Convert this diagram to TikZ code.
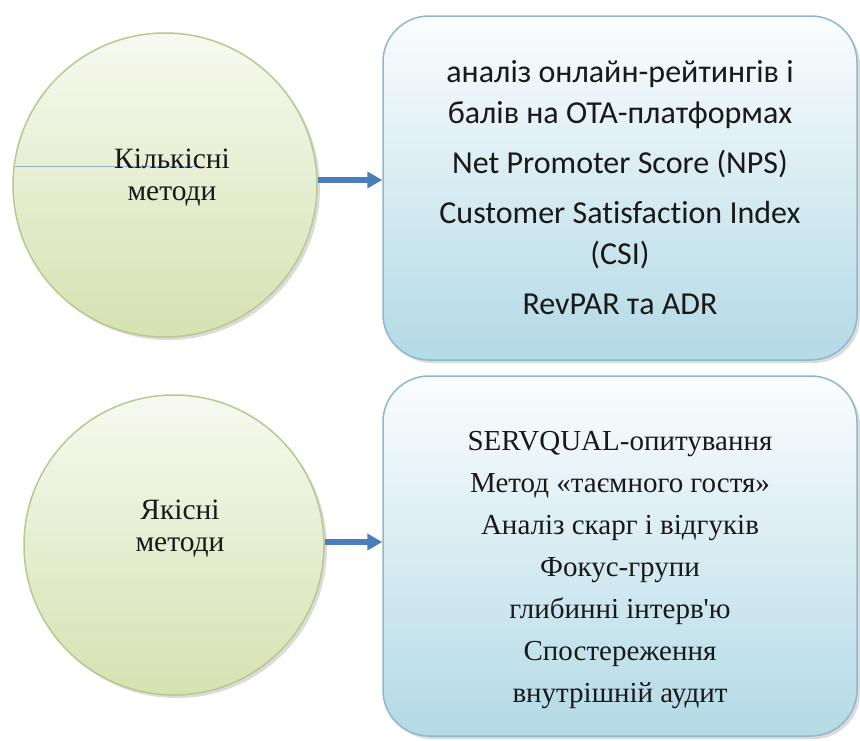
\documentclass[tikz,border=0pt]{standalone}
\usepackage{fontspec}
\setmainfont[Ligatures=TeXOff]{Liberation Serif}
\newfontfamily\carl[Ligatures=CommonOff]{Carlito}
\usetikzlibrary{shadows,arrows.meta}
\definecolor{circtop}{HTML}{F7F9F0}
\definecolor{circbot}{HTML}{D5E2B1}
\definecolor{circline}{HTML}{B9C98E}
\definecolor{boxtop}{HTML}{FBFDFE}
\definecolor{boxbot}{HTML}{B3DAE6}
\definecolor{boxline}{HTML}{8CB9CB}
\definecolor{arrowblue}{HTML}{4A7EBB}
\tikzset{
  methodcirc/.style={circle, minimum size=304pt, inner sep=0pt, draw=circline, line width=1.5pt,
    top color=circtop, bottom color=circbot,
    drop shadow={shadow xshift=3pt, shadow yshift=-3pt, opacity=0.35, fill=gray!80}},
  listbox/.style={rectangle, rounded corners=46pt, draw=boxline, line width=1.5pt,
    top color=boxtop, bottom color=boxbot,
    drop shadow={shadow xshift=3pt, shadow yshift=-3pt, opacity=0.35, fill=gray!80}},
  circtext/.style={align=center, font=\fontsize{29.5}{32}\selectfont, text=black!90},
  sanstext/.style={align=center, font=\carl\fontsize{32}{41}\selectfont, text=black!90},
  seriftext/.style={align=center, font=\fontsize{29}{42}\selectfont, text=black!90},
  bluearrow/.style={draw=arrowblue, line width=6pt, -{Triangle[length=15pt,width=16pt]}}
}
\begin{document}
\begin{tikzpicture}[x=1pt,y=-1pt]
\useasboundingbox (0,0) rectangle (860,740);
\fill[white] (0,0) rectangle (860,740);
% circles
\node[methodcirc] (c1) at (165,185) {};
\node[methodcirc, minimum size=300pt] (c2) at (174,545) {};
% boxes
\node[listbox, minimum width=474pt, minimum height=344pt] (b1) at (620,188) {};
\node[listbox, minimum width=474pt, minimum height=360pt] (b2) at (620,556) {};
% faint stray line in first circle
\draw[color=arrowblue!60, line width=0.6pt] (15,166) -- (200,166);
% texts
\node[circtext] (t1) at (172,178) {Кількісні\\методи};
\node[circtext] (t2) at (180,529) {Якісні\\методи};
\node[sanstext] (l1) at (620,188) {аналіз онлайн-рейтингів і\\балів на OTA-платформах\\[9pt]Net Promoter Score (NPS)\\[9pt]Customer Satisfaction Index\\(CSI)\\[9pt]RevPAR та ADR};
\node[seriftext] (l2) at (620,570) {SERVQUAL-опитування\\Метод «таємного гостя»\\Аналіз скарг і відгуків\\Фокус-групи\\глибинні інтерв'ю\\Спостереження\\внутрішній аудит};
% arrows
\coordinate (a1s) at ([yshift=5pt]c1.east);
\coordinate (a2s) at ([yshift=3pt]c2.east);
\draw[bluearrow] (a1s) -- (a1s -| b1.west);
\draw[bluearrow] (a2s) -- (a2s -| b2.west);
\end{tikzpicture}
\end{document}
